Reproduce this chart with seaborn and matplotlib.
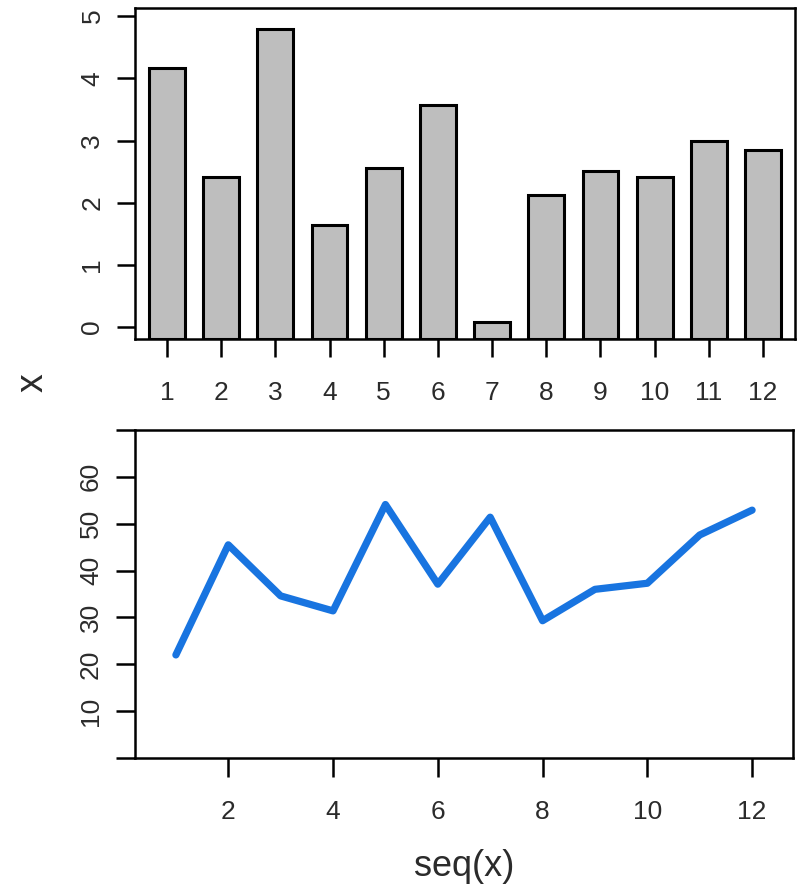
import numpy as np
import pandas as pd
import matplotlib
matplotlib.use("Agg")
import matplotlib.pyplot as plt
import seaborn as sns

# Data
bar_labels = [str(i) for i in range(1, 13)]
bar_values = [4.16, 2.41, 4.79, 1.65, 2.56, 3.57, 0.09, 2.12, 2.51, 2.41, 3.0, 2.85]

line_x = list(range(1, 13))
line_y = [22.0, 45.5, 34.6, 31.4, 54.1, 37.1, 51.4, 29.3, 36.0, 37.3, 47.6, 52.9]

sns.set_style("ticks")
plt.rcParams['font.family'] = ['Liberation Sans', 'DejaVu Sans']
plt.rcParams['axes.linewidth'] = 1.8
plt.rcParams['xtick.major.width'] = 1.8
plt.rcParams['ytick.major.width'] = 1.8
plt.rcParams['axes.edgecolor'] = 'black'

TXT = '#2b2b2b'

fig = plt.figure(figsize=(7.98, 8.94), dpi=100)
ax1 = fig.add_axes([0.1692, 0.6208, 0.8270, 0.3703])
ax2 = fig.add_axes([0.1692, 0.1521, 0.8245, 0.3669])

# Top: bar chart, bars run down to the bottom of the box as in the reference
df_bar = pd.DataFrame({'idx': bar_labels, 'value': bar_values})
sns.barplot(data=df_bar, x='idx', y='value', ax=ax1, color='#bebebe',
            saturation=1, edgecolor='black', linewidth=2.2, width=0.66)
ylo = -0.19
for p in ax1.patches:
    h = p.get_height()
    p.set_y(ylo)
    p.set_height(h - ylo)
ax1.set_ylim(ylo, 5.13)
ax1.set_xlim(-0.59, 11.59)
ax1.set_yticks(range(0, 6))
ax1.set_yticklabels([str(i) for i in range(0, 6)], rotation=90, va='center')
ax1.tick_params(axis='y', length=13, pad=9, labelsize=19, labelcolor=TXT, color='black')
ax1.tick_params(axis='x', length=13, pad=17, labelsize=19, labelcolor=TXT, color='black')
ax1.set_xlabel('')
ax1.set_ylabel('')
for s in ax1.spines.values():
    s.set_visible(True)

fig.text(33 / 798, 1 - 383 / 894, 'x', rotation=90, ha='center', va='center',
         fontsize=27, color=TXT)

# Bottom: line chart
df_line = pd.DataFrame({'seq': line_x, 'x': line_y})
sns.lineplot(data=df_line, x='seq', y='x', ax=ax2, color='#1874e0', linewidth=5.2,
             solid_capstyle='round', solid_joinstyle='round')
ax2.set_xlim(0.22, 12.78)
ax2.set_ylim(0, 70)
ax2.set_yticks(range(0, 71, 10))
ax2.set_yticklabels([''] + [str(v) for v in range(10, 61, 10)] + [''],
                    rotation=90, va='center')
ax2.set_xticks(range(2, 13, 2))
ax2.tick_params(axis='y', length=14, pad=9, labelsize=19, labelcolor=TXT, color='black')
ax2.tick_params(axis='x', length=14, pad=16, labelsize=19, labelcolor=TXT, color='black')
ax2.set_ylabel('')
ax2.set_xlabel('seq(x)', fontsize=26, color=TXT, labelpad=18)
for s in ax2.spines.values():
    s.set_visible(True)

fig.savefig('out.png', dpi=100, facecolor='white')
